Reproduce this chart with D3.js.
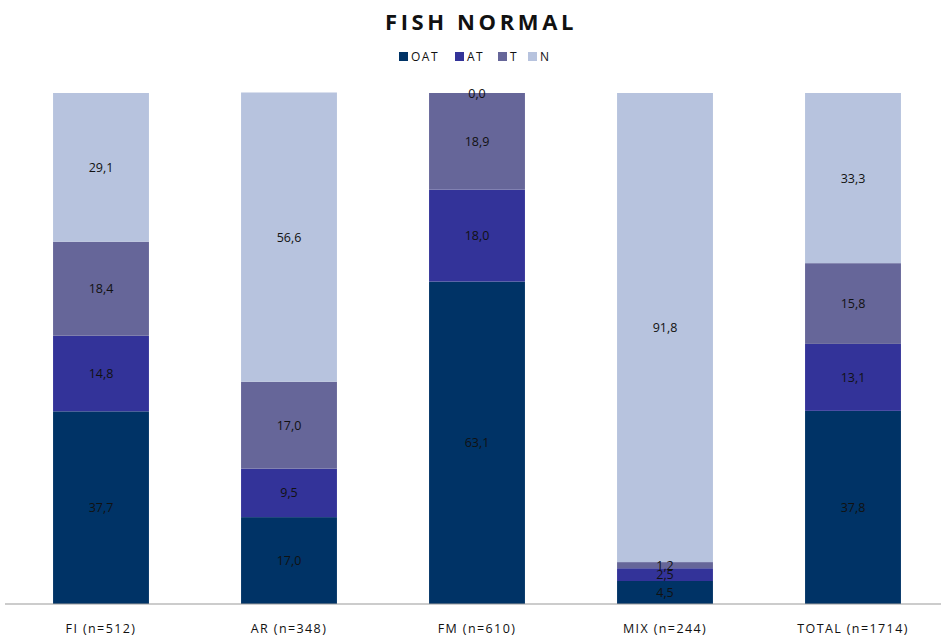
<!DOCTYPE html>
<html><head><meta charset="utf-8">
<script src="https://cdn.jsdelivr.net/npm/d3@7"></script>
<style>body{margin:0;background:#fff;}svg{display:block;}</style>
</head><body>
<script>
const categories = ["FI (n=512)", "AR (n=348)", "FM (n=610)", "MIX (n=244)", "TOTAL (n=1714)"];
const seriesNames = ["OAT", "AT", "T", "N"];
const OAT = [37.7, 17.0, 63.1, 4.5, 37.8];
const AT = [14.8, 9.5, 18.0, 2.5, 13.1];
const T = [18.4, 17.0, 18.9, 1.2, 15.8];
const N = [29.1, 56.6, 0.0, 91.8, 33.3];
const colors = ["#003366", "#333399", "#666699", "#b7c3de"];

const W = 941, H = 638;
const svg = d3.select("body").append("svg").attr("width", W).attr("height", H);
const font = "'Open Sans', sans-serif";

const rows = categories.map((c, i) => ({cat: c, OAT: OAT[i], AT: AT[i], T: T[i], N: N[i]}));
const stack = d3.stack().keys(seriesNames)(rows);

const x = d3.scaleBand().domain(categories).range([7, 947]).paddingInner(0.49).paddingOuter(0.245);
const y = d3.scaleLinear().domain([0, 100]).range([604, 93]);

svg.append("text").attr("x", 481).attr("y", 30).attr("text-anchor", "middle")
  .attr("font-family", font).attr("font-weight", "bold").attr("font-size", 22)
  .attr("letter-spacing", "3.6px").attr("fill", "#111").text("FISH NORMAL");

// legend
const legX = [399, 455, 498, 528];
const leg = svg.append("g");
seriesNames.forEach((s, i) => {
  const g = leg.append("g").attr("transform", `translate(${legX[i]},52)`);
  g.append("rect").attr("width", 9).attr("height", 9).attr("fill", colors[i]);
  g.append("text").attr("x", 12).attr("y", 9).attr("font-family", font).attr("font-size", 12)
    .attr("letter-spacing", "1.5px").attr("fill", "#111").text(s);
});

const layers = svg.append("g").selectAll("g").data(stack).join("g").attr("fill", (d, i) => colors[i]);
layers.selectAll("rect").data(d => d).join("rect")
  .attr("x", d => x(d.data.cat)).attr("width", x.bandwidth())
  .attr("y", d => y(d[1])).attr("height", d => y(d[0]) - y(d[1]));

const fmt = v => v.toFixed(1).replace(".", ",");
stack.forEach(layer => {
  svg.append("g").selectAll("text").data(layer).join("text")
    .attr("x", d => x(d.data.cat) + x.bandwidth() / 2)
    .attr("y", d => (y(d[0]) + y(d[1])) / 2 + 4.5)
    .attr("text-anchor", "middle").attr("font-family", font).attr("font-size", 12.5)
    .attr("fill", "#111").text(d => fmt(d[1] - d[0]));
});

const axis = svg.append("g").attr("transform", "translate(0,604)");
axis.append("line").attr("x1", 5).attr("x2", 941).attr("stroke", "#999").attr("stroke-width", 1.2);
axis.selectAll("text").data(categories).join("text")
  .attr("x", d => x(d) + x.bandwidth() / 2).attr("y", 29)
  .attr("text-anchor", "middle").attr("font-family", font).attr("font-size", 12.5)
  .attr("letter-spacing", "1.4px").attr("fill", "#111").text(d => d);
</script>
</body></html>
